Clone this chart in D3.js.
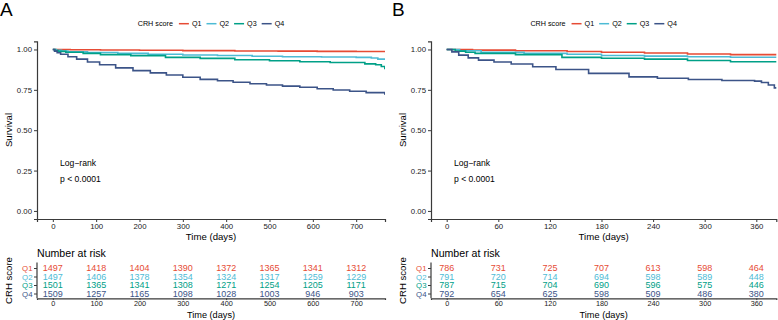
<!DOCTYPE html>
<html>
<head>
<meta charset="utf-8">
<script src="https://cdn.jsdelivr.net/npm/d3@7"></script>
<style>
  body { margin: 0; background: #fff; }
  svg { font-family: "Liberation Sans", Arial, Helvetica, sans-serif; }
</style>
</head>
<body>
<svg id="chart" width="778" height="320"></svg>
<script>
// groups and colours
const categories = ['Q1', 'Q2', 'Q3', 'Q4'];
const colors = ['#E64B35', '#4DBBD5', '#00A087', '#3C5488'];

// panel A survival curves, [time, survival]
const kmA_Q1 = [[0, 1], [40, 0.998], [110, 0.997], [200, 0.995], [300, 0.993], [420, 0.991], [520, 0.99], [610, 0.988], [700, 0.987], [770, 0.986]];
const kmA_Q2 = [[0, 1], [8, 0.995], [20, 0.99], [35, 0.985], [80, 0.981], [150, 0.976], [220, 0.97], [300, 0.966], [380, 0.963], [460, 0.958], [530, 0.955], [620, 0.953], [700, 0.951], [735, 0.947], [750, 0.94], [770, 0.935]];
const kmA_Q3 = [[0, 1], [5, 0.994], [12, 0.988], [30, 0.983], [70, 0.976], [110, 0.968], [180, 0.962], [260, 0.951], [340, 0.945], [420, 0.936], [500, 0.93], [570, 0.924], [640, 0.919], [720, 0.911], [745, 0.905], [758, 0.895], [766, 0.883], [770, 0.883]];
const kmA_Q4 = [[0, 1], [4, 0.99], [10, 0.98], [18, 0.97], [35, 0.955], [55, 0.94], [80, 0.922], [108, 0.905], [145, 0.886], [185, 0.869], [225, 0.855], [262, 0.842], [300, 0.828], [340, 0.815], [380, 0.806], [416, 0.797], [455, 0.788], [493, 0.78], [530, 0.773], [570, 0.766], [610, 0.757], [647, 0.749], [685, 0.741], [723, 0.733], [766, 0.724], [770, 0.724]];

// panel B survival curves
const kmB_Q1 = [[0, 1], [30, 0.996], [80, 0.992], [140, 0.987], [180, 0.983], [230, 0.978], [280, 0.972], [330, 0.968], [385, 0.965]];
const kmB_Q2 = [[0, 1], [15, 0.992], [40, 0.982], [90, 0.976], [140, 0.97], [180, 0.963], [230, 0.959], [280, 0.955], [330, 0.952], [385, 0.949]];
const kmB_Q3 = [[0, 1], [10, 0.99], [22, 0.983], [33, 0.976], [80, 0.968], [134, 0.951], [180, 0.946], [230, 0.94], [280, 0.932], [330, 0.924], [385, 0.918]];
const kmB_Q4 = [[0, 1], [6, 0.985], [14, 0.965], [25, 0.948], [37, 0.934], [55, 0.922], [75, 0.91], [100, 0.893], [127, 0.876], [165, 0.852], [212, 0.83], [245, 0.822], [281, 0.814], [320, 0.808], [358, 0.804], [366, 0.795], [374, 0.78], [381, 0.762], [385, 0.762]];

// numbers at risk
const riskA_Q1 = [1497, 1418, 1404, 1390, 1372, 1365, 1341, 1312];
const riskA_Q2 = [1497, 1406, 1378, 1354, 1324, 1317, 1259, 1229];
const riskA_Q3 = [1501, 1365, 1341, 1308, 1271, 1254, 1205, 1171];
const riskA_Q4 = [1509, 1257, 1165, 1098, 1028, 1003, 946, 903];
const riskB_Q1 = [786, 731, 725, 707, 613, 598, 464];
const riskB_Q2 = [791, 720, 714, 694, 598, 589, 448];
const riskB_Q3 = [787, 715, 704, 690, 596, 575, 446];
const riskB_Q4 = [792, 654, 625, 598, 509, 486, 380];

// x ticks
const ticksA = [0, 100, 200, 300, 400, 500, 600, 700];
const ticksB = [0, 60, 120, 180, 240, 300, 360];
const yTicks = [0, 0.25, 0.5, 0.75, 1];

const svg = d3.select('#chart');
const axisColor = '#3a3a3a';

function styleAxis(a) {
    a.select('.domain').attr('stroke', axisColor).attr('stroke-width', 1.2);
    a.selectAll('.tick line').attr('stroke', axisColor);
    a.selectAll('.tick text').attr('font-size', 7.8).attr('fill', '#222');
}

function drawPanel(cfg) {
    const x = d3.scaleLinear()
        .domain([-cfg.tmax * 0.05, cfg.tmax * 1.05])
        .range([cfg.left, cfg.right]);
    const y = d3.scaleLinear()
        .domain([-0.05, 1.05])
        .range([219, 41.4]);
    const yRisk = d3.scalePoint()
        .domain(categories)
        .range([268, 293.5]);

    const g = svg.append('g');
    const midX = (cfg.left + cfg.right) / 2;

    // panel letter
    g.append('text')
        .attr('x', cfg.letterX).attr('y', 16)
        .attr('font-size', 19)
        .text(cfg.letter);

    // legend
    const leg = g.append('g').attr('font-size', 7.2);
    let cx = 0;
    const title = leg.append('text').attr('x', cx).attr('y', 26).text('CRH score');
    cx += title.node().getComputedTextLength() + 6;
    categories.forEach((c, i) => {
        leg.append('line')
            .attr('x1', cx).attr('x2', cx + 10)
            .attr('y1', 23.7).attr('y2', 23.7)
            .attr('stroke', colors[i]).attr('stroke-width', 1.5);
        cx += 13;
        const t = leg.append('text').attr('x', cx).attr('y', 26).text(c);
        cx += t.node().getComputedTextLength() + 5;
    });
    leg.attr('transform', `translate(${midX - (cx - 5) / 2},0)`);

    // clip for curves
    const clipId = 'clip' + cfg.letter;
    svg.append('clipPath').attr('id', clipId)
        .append('rect')
        .attr('x', cfg.left).attr('y', 30)
        .attr('width', cfg.right - cfg.left).attr('height', 190);

    const line = d3.line()
        .x(d => x(d[0]))
        .y(d => y(d[1]))
        .curve(d3.curveStepAfter);

    g.append('g').attr('clip-path', `url(#${clipId})`)
        .selectAll('path')
        .data(cfg.curves)
        .join('path')
        .attr('d', d => line(d))
        .attr('fill', 'none')
        .attr('stroke', (d, i) => colors[i])
        .attr('stroke-width', 1.6);

    // axes of the survival plot
    const xAxis = d3.axisBottom(x).tickValues(cfg.ticks).tickSize(3).tickPadding(1.5);
    const yAxis = d3.axisLeft(y).tickValues(yTicks).tickSize(3).tickPadding(2)
        .tickFormat(d3.format('.2f'));

    styleAxis(g.append('g').attr('transform', 'translate(0,219)').call(xAxis));
    styleAxis(g.append('g').attr('transform', `translate(${cfg.left},0)`).call(yAxis));

    g.append('text')
        .attr('x', midX).attr('y', 239.5)
        .attr('text-anchor', 'middle')
        .attr('font-size', 9.6)
        .text('Time (days)');

    g.append('text')
        .attr('transform', `translate(${cfg.left - 25},130) rotate(-90)`)
        .attr('text-anchor', 'middle')
        .attr('font-size', 9.6)
        .text('Survival');

    // log-rank annotation
    g.append('text')
        .attr('x', cfg.left + 23).attr('y', y(0.28))
        .attr('font-size', 8.6)
        .text('Log\u2212rank');
    g.append('text')
        .attr('x', cfg.left + 23).attr('y', y(0.18))
        .attr('font-size', 8.6)
        .text('p < 0.0001');

    // number at risk table
    g.append('text')
        .attr('x', cfg.left).attr('y', 257)
        .attr('font-size', 10.6)
        .text('Number at risk');

    cfg.risk.forEach((row, i) => {
        g.append('g')
            .selectAll('text')
            .data(row)
            .join('text')
            .attr('x', (d, j) => x(cfg.ticks[j]))
            .attr('y', yRisk(categories[i]) + 3.2)
            .attr('text-anchor', 'middle')
            .attr('font-size', 9)
            .attr('fill', colors[i])
            .text(d => d);
    });

    const rxAxis = d3.axisBottom(x).tickValues(cfg.ticks).tickSize(1.8).tickPadding(0.5);
    const ryAxis = d3.axisLeft(yRisk).tickSize(3).tickPadding(1.5);
    const rxg = g.append('g').attr('transform', 'translate(0,298.3)').call(rxAxis);
    const ryg = g.append('g').attr('transform', `translate(${cfg.left},0)`).call(ryAxis);
    styleAxis(rxg);
    styleAxis(ryg);
    rxg.selectAll('.tick text').attr('font-size', 7.3);
    ryg.select('.domain').attr('d', 'M0,262.5V298.3');
    ryg.selectAll('.tick text').attr('fill', (d, i) => colors[i]);

    g.append('text')
        .attr('x', midX).attr('y', 317.6)
        .attr('text-anchor', 'middle')
        .attr('font-size', 9.2)
        .text('Time (days)');

    g.append('text')
        .attr('transform', `translate(${cfg.left - 25},280.5) rotate(-90)`)
        .attr('text-anchor', 'middle')
        .attr('font-size', 9.6)
        .text('CRH score');
}

drawPanel({
    letter: 'A', letterX: 0, left: 37, right: 385, tmax: 730,
    ticks: ticksA,
    curves: [kmA_Q1, kmA_Q2, kmA_Q3, kmA_Q4],
    risk: [riskA_Q1, riskA_Q2, riskA_Q3, riskA_Q4]
});
drawPanel({
    letter: 'B', letterX: 392, left: 431, right: 776.3, tmax: 365,
    ticks: ticksB,
    curves: [kmB_Q1, kmB_Q2, kmB_Q3, kmB_Q4],
    risk: [riskB_Q1, riskB_Q2, riskB_Q3, riskB_Q4]
});
</script>
</body>
</html>
